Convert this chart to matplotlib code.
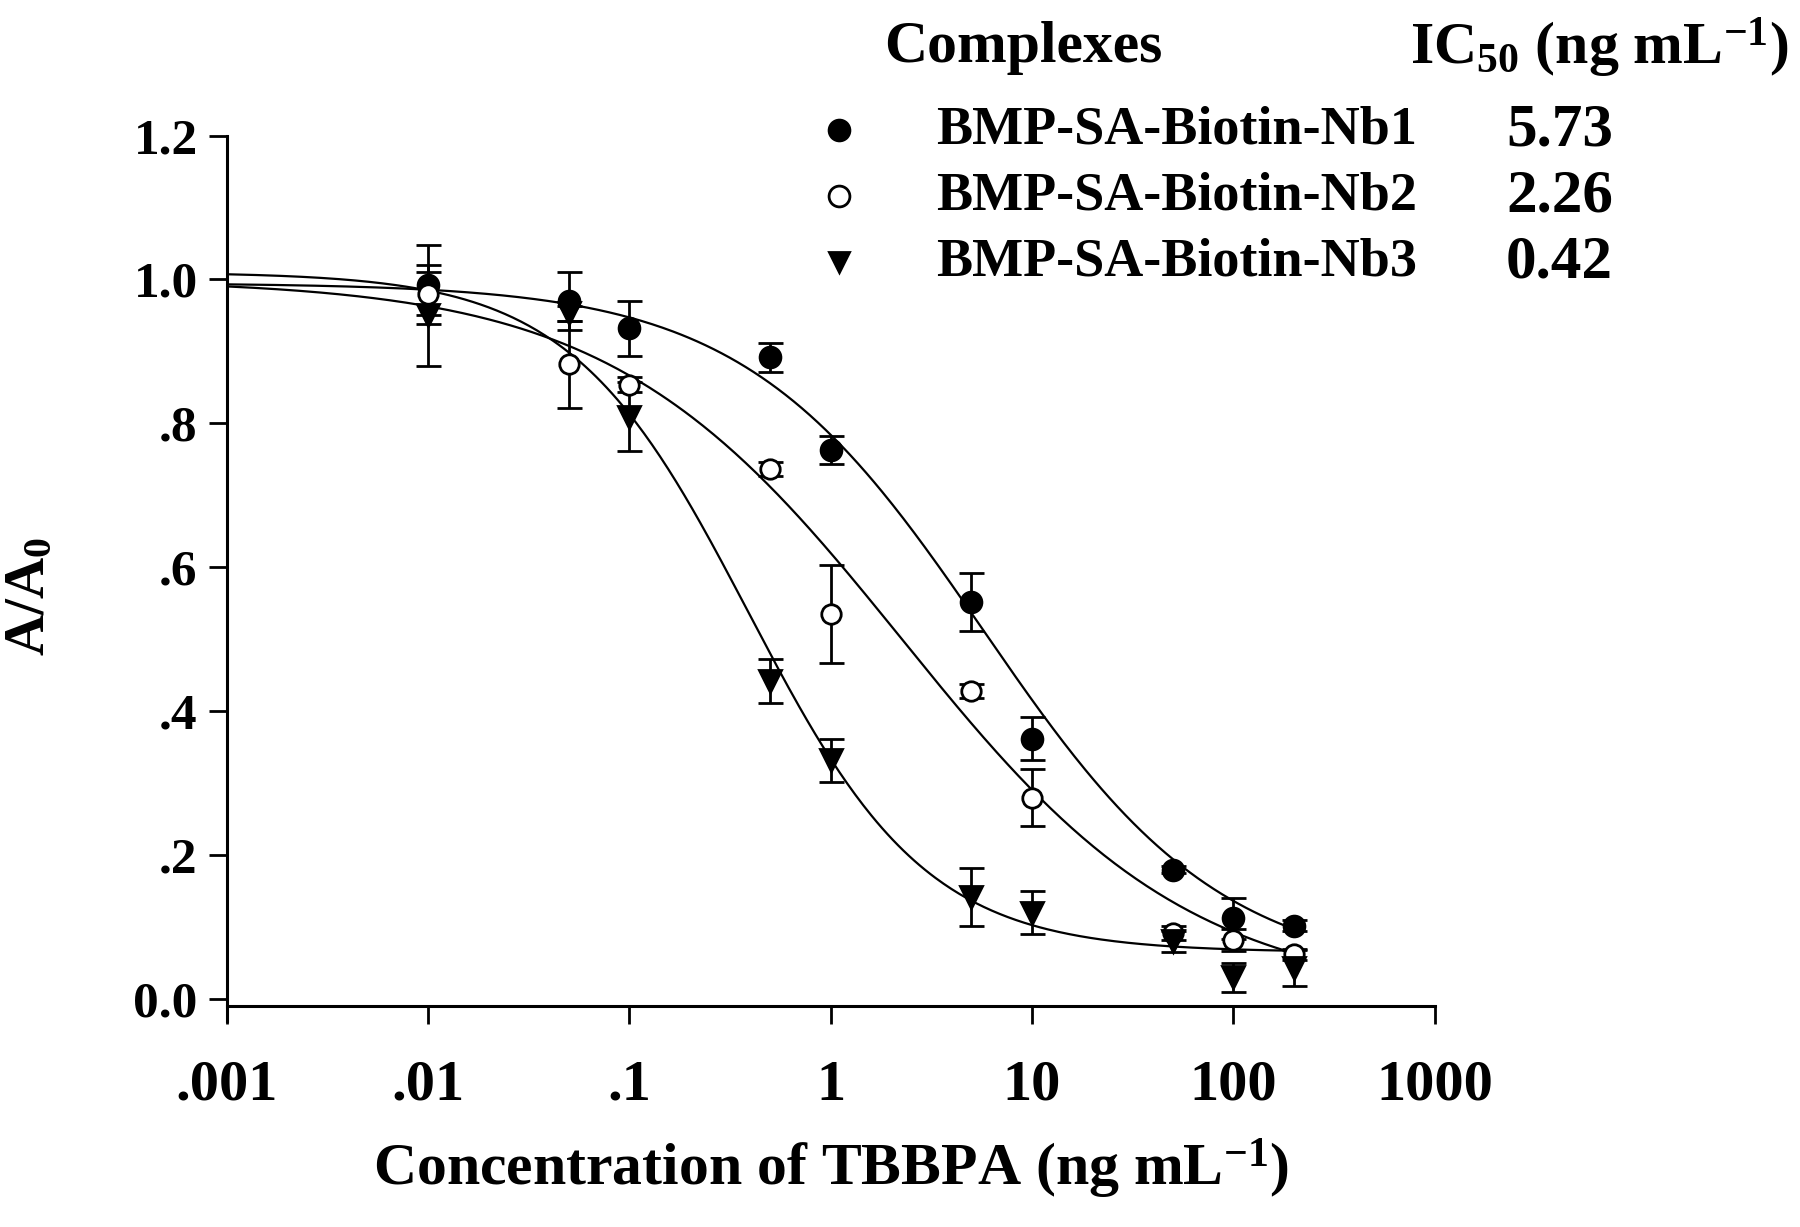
import numpy as np
import matplotlib
matplotlib.use("Agg")
import matplotlib.pyplot as plt

plt.rcParams['font.family'] = ['Liberation Serif', 'DejaVu Serif']
plt.rcParams['font.weight'] = 'bold'
plt.rcParams['mathtext.fontset'] = 'custom'
plt.rcParams['mathtext.rm'] = 'Liberation Serif:bold'
plt.rcParams['mathtext.bf'] = 'Liberation Serif:bold'
plt.rcParams['mathtext.it'] = 'Liberation Serif:bold'
plt.rcParams['mathtext.default'] = 'rm'

# concentrations (ng/mL)
conc = [0.01, 0.05, 0.1, 0.5, 1, 5, 10, 50, 100, 200]

# A/A0 means and error
nb1 = [0.993, 0.970, 0.932, 0.892, 0.763, 0.552, 0.362, 0.180, 0.112, 0.102]
nb1_err = [0.055, 0.040, 0.038, 0.020, 0.020, 0.040, 0.030, 0.005, 0.028, 0.008]
nb2 = [0.980, 0.882, 0.854, 0.737, 0.535, 0.428, 0.280, 0.092, 0.082, 0.062]
nb2_err = [0.030, 0.060, 0.010, 0.010, 0.068, 0.010, 0.040, 0.010, 0.015, 0.008]
nb3 = [0.950, 0.953, 0.809, 0.442, 0.332, 0.142, 0.120, 0.080, 0.030, 0.043]
nb3_err = [0.070, 0.010, 0.048, 0.030, 0.030, 0.040, 0.030, 0.015, 0.020, 0.025]

names = ['BMP-SA-Biotin-Nb1', 'BMP-SA-Biotin-Nb2', 'BMP-SA-Biotin-Nb3']
ic50 = ['5.73', '2.26', '0.42']

# four-parameter logistic fits: top, bottom, midpoint, slope
fit_top = [0.995, 1.00, 1.01]
fit_bottom = [0.03, 0.0, 0.065]
fit_mid = [5.73, 2.26, 0.39]
fit_slope = [0.73, 0.60, 0.98]

fig = plt.figure(figsize=(18, 12.27), dpi=100)
ax = fig.add_axes([0.126, 0.1805, 0.671, 0.709])

xs = np.logspace(-3, np.log10(200), 400)
for i in range(3):
    yfit = fit_bottom[i] + (fit_top[i] - fit_bottom[i]) / (1 + (xs / fit_mid[i]) ** fit_slope[i])
    ax.plot(xs, yfit, color='black', lw=1.6, zorder=2)

styles = [dict(marker='o', mfc='black', ms=15),
          dict(marker='o', mfc='white', ms=14),
          dict(marker='v', mfc='black', ms=16)]
for y, e, st in zip([nb1, nb2, nb3], [nb1_err, nb2_err, nb3_err], styles):
    ax.errorbar(conc, y, yerr=e, fmt='none', ecolor='black', elinewidth=2,
                capsize=9, capthick=2, zorder=3)
    ax.plot(conc, y, ls='none', mec='black', mew=2, zorder=4, **st)

ax.set_xscale('log')
ax.set_xlim(0.001, 1000)
ax.set_ylim(-0.009, 1.2)
ax.set_xticks([0.001, 0.01, 0.1, 1, 10, 100, 1000])
ax.set_xticklabels(['.001', '.01', '.1', '1', '10', '100', '1000'])
ax.xaxis.set_minor_locator(matplotlib.ticker.NullLocator())
ax.set_yticks([0, 0.2, 0.4, 0.6, 0.8, 1.0, 1.2])
ax.set_yticklabels(['0.0', '.2', '.4', '.6', '.8', '1.0', '1.2'])
ax.tick_params(axis='both', width=2, length=13, direction='out')
ax.tick_params(axis='x', labelsize=42, pad=26)
ax.tick_params(axis='y', labelsize=37, pad=8)
for s in ['top', 'right']:
    ax.spines[s].set_visible(False)
for s in ['left', 'bottom']:
    ax.spines[s].set_linewidth(2.2)
ax.spines['left'].set_bounds(-0.03, 1.2)

ax.set_xlabel(r'Concentration of TBBPA (ng mL$^{-1}$)', fontsize=43, fontweight='bold', labelpad=18)
ax.set_ylabel(r'A/A$_0$', fontsize=41, fontweight='bold')
ax.yaxis.set_label_coords(-0.141, 0.47)

# legend-like table at top right
fig.text(884 / 1800, 1 - 48 / 1227, 'Complexes', fontsize=43, fontweight='bold', va='center')
fig.text(1410 / 1800, 1 - 48 / 1227, r'IC$_{50}$ (ng mL$^{-1}$)', fontsize=43, fontweight='bold', va='center')
mk = ['o', 'o', 'v']
mfc = ['black', 'white', 'black']
rows_y = [130, 196, 262]
for i in range(3):
    yy = 1 - rows_y[i] / 1227
    fig.lines.append(matplotlib.lines.Line2D([839 / 1800], [yy], marker=mk[i], mfc=mfc[i], mec='black',
                                             mew=2, ms=15, transform=fig.transFigure))
    fig.text(936 / 1800, yy, names[i], fontsize=39, fontweight='bold', va='center')
    fig.text(1506 / 1800, yy, ic50[i], fontsize=44, fontweight='bold', va='center')

fig.savefig('out.png', dpi=100)
